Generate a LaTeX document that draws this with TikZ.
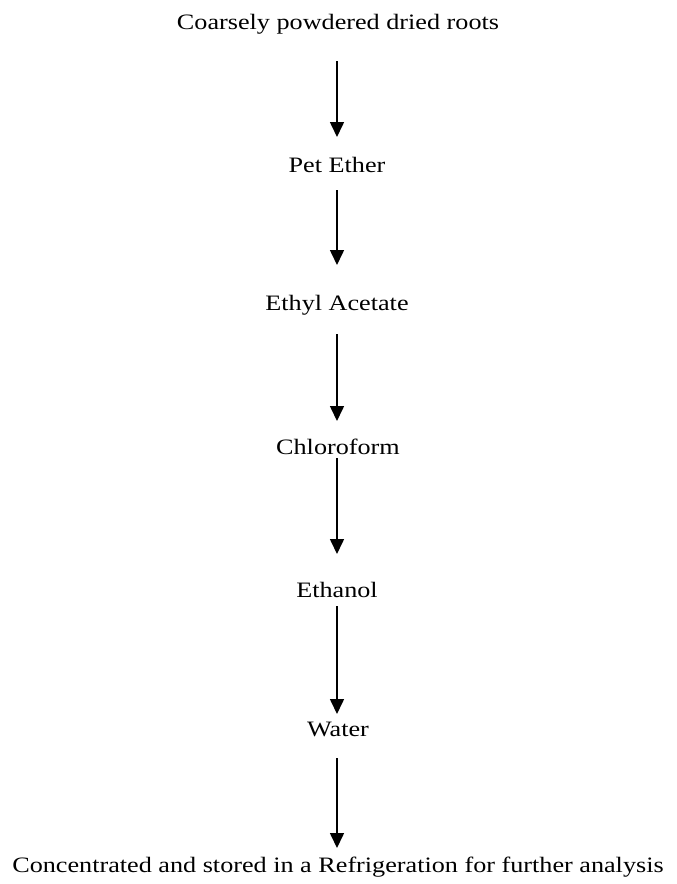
\documentclass[tikz,border=0pt]{standalone}
\usepackage{fontspec}
\setmainfont{Liberation Serif}
\usetikzlibrary{arrows.meta}
\newcommand{\wide}[1]{\scalebox{1.19}[1]{#1}}
\begin{document}
\begin{tikzpicture}[x=1pt,y=-1pt,
  lbl/.style={font=\fontsize{22}{26}\selectfont, inner sep=0pt, anchor=center},
  flow/.style={line width=1.6pt, -{Triangle[width=14pt,length=15pt]}}]
\useasboundingbox (0,0) rectangle (677,884);
\node[lbl] (n1) at (338,24) {\wide{Coarsely powdered dried roots}};
\node[lbl] (n2) at (337,165) {\wide{Pet Ether}};
\node[lbl] (n3) at (337,305) {\wide{Ethyl Acetate}};
\node[lbl] (n4) at (338,447) {\wide{Chloroform}};
\node[lbl] (n5) at (337,590) {\wide{Ethanol}};
\node[lbl] (n6) at (338,729) {\wide{Water}};
\node[lbl] (n7) at (338,867) {\wide{Concentrated and stored in a Refrigeration for further analysis}};
\coordinate (a1) at (337,61); \coordinate (b1) at (337,137);
\coordinate (a2) at (337,190); \coordinate (b2) at (337,265);
\coordinate (a3) at (337,334); \coordinate (b3) at (337,421);
\coordinate (a4) at (337,458); \coordinate (b4) at (337,554);
\coordinate (a5) at (337,606); \coordinate (b5) at (337,714);
\coordinate (a6) at (337,758); \coordinate (b6) at (337,848);
\draw[flow] (a1) -- (b1);
\draw[flow] (a2) -- (b2);
\draw[flow] (a3) -- (b3);
\draw[flow] (a4) -- (b4);
\draw[flow] (a5) -- (b5);
\draw[flow] (a6) -- (b6);
\end{tikzpicture}
\end{document}
